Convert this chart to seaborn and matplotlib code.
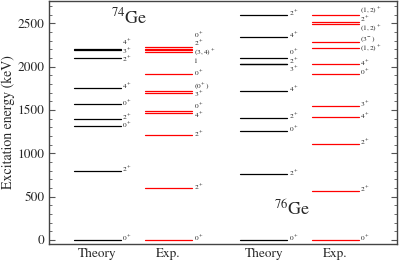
import numpy as np
import pandas as pd
import matplotlib
matplotlib.use("Agg")
import matplotlib.pyplot as plt
import seaborn as sns

# level energies (keV) and spin-parity labels
th74_E = [0, 796, 1310, 1400, 1565, 1755, 2097, 2190, 2205]
th74_J = [r"$0^+$", r"$2^+$", r"$0^+$", r"$2^+$", r"$0^+$", r"$4^+$", r"$2^+$", r"$3^+$", r"$4^+$"]

ex74_E = [0, 599, 1210, 1464, 1483, 1699, 1722, 1913, 2168, 2197, 2207, 2228]
ex74_J = [r"$0^+$", r"$2^+$", r"$2^+$", r"$4^+$", r"$0^+$", r"$3^+$", r"$(0^+)$", r"$0^+$",
          "1", r"$(3,4)^+$", r"$2^+$", r"$0^+$"]

th76_E = [0, 760, 1258, 1412, 1723, 2025, 2031, 2097, 2346, 2595]
th76_J = [r"$0^+$", r"$2^+$", r"$0^+$", r"$2^+$", r"$4^+$", r"$3^+$", r"$2^+$", r"$0^+$", r"$4^+$", r"$2^+$"]

ex76_E = [0, 566, 1109, 1417, 1547, 1919, 2026, 2213, 2290, 2492, 2512, 2598]
ex76_J = [r"$0^+$", r"$2^+$", r"$2^+$", r"$4^+$", r"$3^+$", r"$0^+$", r"$4^+$", r"$(1,2)^+$",
          r"$(3^-)$", r"$(1,2)^+$", r"$2^+$", r"$(1,2)^+$"]

columns = ["Theory", "Exp.", "Theory", "Exp."]
centers = [47.7, 119.2, 214.5, 286.0]
half_w = 23.5

sns.set_theme(style="ticks")
plt.rcParams["font.family"] = ["STIXGeneral", "DejaVu Serif"]
plt.rcParams["mathtext.fontset"] = "stix"


def spread(vals, gap):
    # push label positions apart so the spin labels don't collide
    y = list(vals)
    for _ in range(500):
        moved = False
        for i in range(len(y) - 1):
            d = y[i + 1] - y[i]
            if d < gap - 1e-6:
                s = (gap - d) / 2
                y[i] -= s
                y[i + 1] += s
                moved = True
        if not moved:
            break
    return y


sets = [(th74_E, th74_J, "Theory"), (ex74_E, ex74_J, "Exp."),
        (th76_E, th76_J, "Theory"), (ex76_E, ex76_J, "Exp.")]

rows = []
lid = 0
for k, (E, J, kind) in enumerate(sets):
    for e in E:
        for x in (centers[k] - half_w, centers[k] + half_w):
            rows.append({"id": lid, "x": x, "E": e, "kind": kind})
        lid += 1
df = pd.DataFrame(rows)

fig = plt.figure(figsize=(3.99, 2.61), dpi=100)
ax = fig.add_axes([49.3 / 399, 1 - 244 / 261, (397 - 49.3) / 399, 243 / 261])

sns.lineplot(data=df, x="x", y="E", units="id", estimator=None, hue="kind",
             palette={"Theory": "black", "Exp.": "#ff0000"}, lw=0.9,
             legend=False, sort=False, ax=ax)

for k, (E, J, kind) in enumerate(sets):
    ly = spread([e + 15 for e in E], 100)
    for y, lab in zip(ly, J):
        ax.text(centers[k] + half_w + 1.5, y, lab, fontsize=5.3, ha="left", va="center")

ax.text(79.7, 2565, r"$^{74}\mathrm{Ge}$", fontsize=13, ha="center", va="center")
ax.text(243, 350, r"$^{76}\mathrm{Ge}$", fontsize=13, ha="center", va="center")

ax.set_xlim(0, 347.7)
ax.set_ylim(-45, 2757)
ax.set_xticks(centers)
ax.set_xticklabels(columns, fontsize=9.5)
ax.tick_params(axis="x", length=0, pad=3)
ax.set_yticks(np.arange(0, 2501, 500))
ax.set_yticks(np.arange(0, 2701, 100), minor=True)
ax.tick_params(axis="y", which="both", direction="in", left=True, right=True,
               labelsize=9.5, color="#555555")
ax.tick_params(axis="y", which="major", length=4, width=0.8)
ax.tick_params(axis="y", which="minor", length=2, width=0.6)
ax.set_xlabel("")
ax.set_ylabel("Excitation energy (keV)", fontsize=10, labelpad=2)
for sp in ax.spines.values():
    sp.set_color("#444444")
    sp.set_linewidth(1.0)

fig.savefig("out.png", dpi=100)
